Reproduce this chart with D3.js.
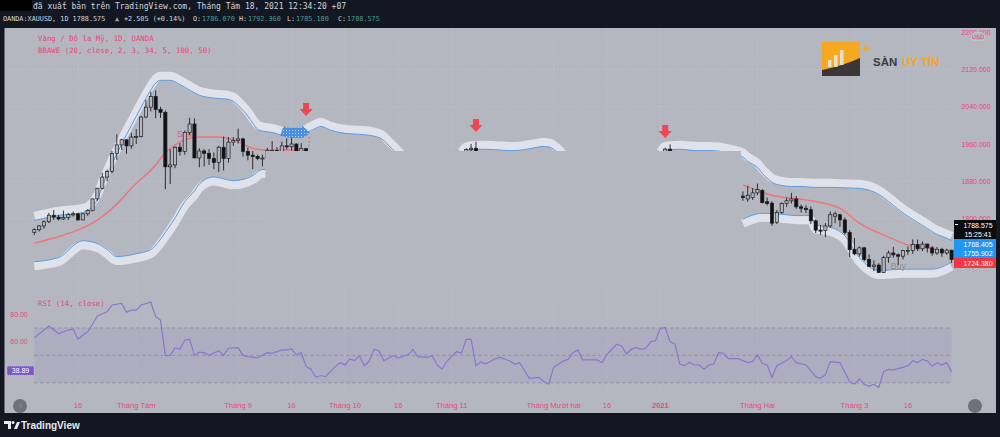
<!DOCTYPE html>
<html>
<head>
<meta charset="utf-8">
<script src="https://cdn.jsdelivr.net/npm/d3@7"></script>
<style>
  body { margin: 0; background: #131722; }
  svg { display: block; }
</style>
</head>
<body>
<svg id="chart" width="1000" height="437"></svg>
<script>
// bar index -> [open, high, low, close]
var candlesJulSep = [
  [2,1770,1779,1765,1776],[3,1776,1786,1772,1784],[4,1784,1796,1778,1793],[5,1793,1812,1790,1807],
  [6,1807,1818,1797,1803],[7,1803,1808,1796,1799],[8,1799,1817,1797,1802],[9,1802,1812,1797,1809],
  [10,1809,1815,1804,1810],[11,1810,1812,1795,1797],[12,1797,1812,1796,1810],[13,1810,1820,1806,1817],
  [14,1817,1843,1815,1842],[15,1842,1866,1838,1865],[16,1865,1898,1862,1889],[17,1889,1905,1880,1901],
  [18,1901,1945,1897,1940],[19,1940,1981,1926,1958],[20,1958,1971,1947,1969],[21,1969,1970,1939,1956],
  [22,1956,1984,1950,1975],[23,1975,1992,1960,1976],[24,1976,2020,1974,2018],[25,2018,2055,2015,2039],
  [26,2039,2072,2030,2062],[27,2062,2075,2015,2034],[28,2034,2040,2016,2028],[29,2028,2032,1863,1911],
  [30,1911,1949,1874,1915],[31,1915,1955,1908,1953],[32,1953,1962,1935,1944],[33,1944,1989,1937,1985],
  [34,1985,2016,1979,2003],[35,2003,2015,1930,1930],[36,1930,1951,1910,1945],[37,1945,1949,1912,1940],
  [38,1940,1949,1915,1929],[39,1929,1942,1906,1920],[40,1920,1956,1900,1953],[41,1953,1976,1903,1929],
  [42,1929,1975,1920,1964],[43,1964,1975,1956,1968],[44,1968,1993,1961,1971],[45,1971,1973,1933,1944],
  [46,1944,1952,1925,1936],[47,1936,1945,1906,1933],[48,1933,1937,1925,1929],[49,1929,1937,1912,1930],
  [50,1930,1952,1929,1946],[51,1946,1966,1940,1946],[52,1946,1953,1937,1940],[53,1940,1965,1932,1956],
  [54,1956,1972,1948,1954],[55,1954,1973,1946,1960],[56,1960,1961,1929,1944],[57,1944,1962,1940,1950],
  [58,1950,1950,1882,1912]
];
var candlesNov = [[91,1896,1951,1890,1948],[92,1948,1960,1935,1951],[93,1951,1965,1850,1862]];
var candlesJan = [[131,1898,1944,1883,1943],[132,1943,1952,1935,1949],[133,1949,1959,1901,1918]];
var candlesFebMar = [
  [148,1848,1858,1838,1845],[149,1842,1870,1836,1850],[150,1845,1865,1840,1855],[151,1855,1875,1850,1862],
  [152,1860,1863,1832,1834],[153,1836,1845,1828,1832],[154,1833,1837,1784,1790],[155,1792,1818,1788,1813],
  [156,1813,1835,1810,1832],[157,1832,1845,1825,1838],[158,1838,1855,1832,1842],[159,1842,1848,1821,1825],
  [160,1825,1830,1813,1822],[161,1822,1828,1812,1819],[162,1819,1826,1788,1795],[163,1795,1798,1769,1775],
  [164,1775,1786,1765,1774],[165,1774,1790,1760,1784],[166,1784,1815,1780,1808],[167,1805,1815,1790,1810],
  [168,1808,1810,1782,1797],[169,1797,1802,1765,1770],[170,1770,1775,1717,1733],[171,1734,1758,1721,1724],
  [172,1724,1740,1718,1737],[173,1737,1739,1708,1712],[174,1712,1723,1697,1697],[175,1697,1710,1687,1700],
  [176,1700,1704,1683,1684],[177,1684,1720,1683,1716],[178,1716,1731,1705,1726],[179,1726,1739,1716,1722],
  [180,1722,1725,1700,1719],[181,1719,1733,1712,1731],[182,1731,1740,1722,1731],[183,1731,1755,1724,1744],
  [184,1744,1755,1730,1735],[185,1735,1751,1730,1745],[186,1745,1746,1727,1737],[187,1737,1741,1720,1726],
  [188,1726,1739,1722,1734],[189,1734,1737,1718,1726],[190,1726,1735,1722,1732],[191,1732,1733,1705,1712]
];

// band ribbons and moving average: [bar index, price]
var upperBandA = [[2,1805],[7,1816],[12,1822],[14,1835],[15,1850],[16,1878],[18,1926],[20,1969],[22,2009],
  [24,2048],[26,2085],[27,2100],[28,2106],[30,2106],[32,2097],[34,2085],[36,2074],[38,2069],[40,2067],[42,2065],
  [43,2061],[44,2052],[46,2029],[47,2014],[48,2001],[49,1997],[51,1994],[53,1988],[55,1984],[57,1984],[58,1992],
  [60,2003],[61,2007],[63,1999],[66,1992],[69,1990],[72,1986],[74,1977],[75,1966],[76,1956],[77,1945],[78,1934]];
var upperBandB = [[90,1943],[91,1954],[92,1957],[94,1958],[97,1957],[100,1955],[102,1956],[104,1959],[106,1963],
  [107,1964],[108,1963],[109,1958],[110,1949],[111,1938]];
var upperBandC = [[131,1943],[132,1955],[133,1957],[135,1958],[137,1956],[139,1955],[141,1955],[143,1954],
  [145,1950],[147,1945],[148,1941],[149,1932],[150,1926],[151,1919],[152,1906],[153,1896],[154,1887],[156,1880],
  [158,1878],[160,1878],[163,1876],[166,1876],[169,1875],[172,1874],[174,1870],[176,1861],[178,1846],[180,1829],
  [182,1814],[184,1801],[186,1788],[188,1775],[190,1767],[191,1762]];
var lowerBandA = [[2,1698],[7,1707],[12,1743],[15,1737],[17,1724],[19,1709],[23,1715],[26,1724],[29,1761],
  [31,1792],[33,1827],[35,1850],[36,1865],[39,1880],[43,1872],[46,1878],[47,1883],[49,1896],[50,1896]];
var lowerBandC = [[148,1789],[152,1802],[156,1800],[159,1797],[162,1797],[163,1777],[166,1772],[169,1754],
  [172,1707],[176,1679],[181,1682],[185,1682],[187,1682],[191,1697]];
var maA = [[2,1747],[12,1780],[14,1790],[19,1831],[22,1865],[27,1915],[29,1941],[33,1969],[36,1975],[40,1975],
  [43,1969],[47,1951],[50,1947],[54,1947],[58,1947]];
var maC = [[148,1872],[154,1850],[161,1840],[168,1822],[172,1790],[178,1760],[182,1743],[186,1737],[191,1726]];

var rsi = [[2,62.9],[5,71.5],[7,66],[9,68.5],[10,69.3],[11,62],[13,67.3],[15,78.8],[17,81.9],[18,86.8],[20,88],
  [21,81.5],[22,83.1],[23,83.1],[24,86.8],[26,88.8],[27,78.3],[28,75.8],[29,49.8],[30,50],[31,55.6],[32,54.4],
  [33,61.2],[34,61.7],[35,50],[36,52.3],[37,51.8],[38,50],[40,53.5],[41,50],[42,55.2],[44,55.7],[45,50],[46,49.1],
  [48,48.3],[50,52],[51,51.5],[53,54],[54,54],[55,54.8],[56,50.4],[57,52],[58,41.8],[59,40],[60,34],[61,35.3],
  [62,34.5],[64,41.8],[65,44.7],[66,43],[67,47.4],[68,46.2],[69,49.8],[70,42.5],[71,45.7],[72,54.4],[73,53.4],
  [74,46.2],[76,49.8],[77,48],[79,50.4],[80,54.4],[81,49],[83,48.5],[84,49.8],[85,43],[86,40],[87,45.7],[89,52.8],
  [90,51.5],[91,61.7],[92,61.7],[93,42.5],[94,45.2],[95,43.9],[97,47.6],[98,48.5],[100,45.9],[101,43.7],[102,44.7],
  [104,33.3],[106,34],[107,30.8],[108,29.1],[109,41.3],[111,45.9],[112,47.1],[113,52],[114,54],[115,46.7],
  [118,46.7],[119,44.7],[120,50.8],[122,58.1],[123,56.9],[124,51],[125,54.4],[126,55.8],[127,54.4],[128,55.2],
  [129,60],[130,60.7],[131,69.8],[132,70.3],[133,60],[134,58.3],[135,43.7],[136,42.5],[137,45],[138,43],[139,43],
  [140,40],[141,43],[142,43.7],[143,52],[144,51.5],[145,47.6],[147,47.6],[149,44.7],[150,45.4],[151,50.4],
  [152,44.2],[153,43],[154,34],[155,42.5],[157,46.2],[158,49.1],[159,44.7],[161,43],[163,34.5],[164,33.3],
  [165,35.8],[166,45.5],[168,44.7],[170,30.8],[171,29.1],[172,32.8],[173,28.8],[174,27.6],[175,28.8],[176,26.7],
  [177,38.1],[178,39.8],[179,39.4],[181,41.3],[182,42.3],[183,46.2],[184,44.7],[185,47.1],[186,45.9],[187,42.3],
  [188,44.7],[189,43],[190,44.7],[191,38.1]];

var sellArrows = [[58,2020],[93,1986],[132,1973]];   // bar, arrow tip price
var sellZone = [53,58];
var sellText = [[31,1981]];
var buyText = [[180,1698]];
var hiddenBox = {from: 49.6, to: 147.6, below: 1945};

var timeTicks = [[11,"16"],[23,"Tháng Tám"],[44,"Tháng 9"],[55,"16"],[66,"Tháng 10"],[77,"16"],[88,"Tháng 11"],
  [109,"Tháng Mười hai"],[120,"16"],[131,"2021"],[151,"Tháng Hai"],[171,"Tháng 3"],[182,"16"]];
var priceTicks = [2200,2120,2040,1960,1880,1800];
var rsiTicks = [80,60];
var rsiLevels = [70,50,30];
var lastRsi = 38.89;
var priceTags = [["1788.575","15:25:41","#0b0c10"],["1768.405","1755.902","#2196f3"],["1724.380",null,"#f23645"]];

var PANEL = "#b4b7bf", PINK = "#e8467c", MONO = "'DejaVu Sans Mono', monospace", SANS = "'Liberation Sans', Arial, sans-serif";

var svg = d3.select("#chart");
var x = d3.scaleLinear().domain([11, 120]).range([78, 607]);
var y = d3.scaleLinear().domain([1800, 2120]).range([218.5, 69.5]);
var yr = d3.scaleLinear().domain([60, 80]).range([341.7, 314.3]);

var defs = svg.append("defs");
var pat = defs.append("pattern").attr("id", "dots").attr("width", 3).attr("height", 3).attr("patternUnits", "userSpaceOnUse");
pat.append("rect").attr("width", 3).attr("height", 3).attr("fill", "#4a8fdf");
pat.append("circle").attr("cx", 1.5).attr("cy", 1.5).attr("r", 0.55).attr("fill", "#cfe2f8");

// header
svg.append("rect").attr("x", 0).attr("y", 0).attr("width", 32).attr("height", 11).attr("fill", "#000");
svg.append("text").attr("x", 33).attr("y", 9).attr("font-family", MONO).attr("font-size", 8).attr("fill", "#d1d4dc")
  .text("đã xuất bản trên TradingView.com, Tháng Tám 18, 2021 12:34:20 +07");
var h2 = svg.append("g").attr("font-family", MONO).attr("font-size", 6.8).attr("fill", "#d1d4dc");
h2.append("text").attr("x", 3).attr("y", 21).text("OANDA:XAUUSD, 1D 1788.575");
h2.append("text").attr("x", 115).attr("y", 21).attr("fill", "#9aa0ab").text("▲");
h2.append("text").attr("x", 124).attr("y", 21).text("+2.505 (+0.14%)");
[["O:", "1786.070", 193], ["H:", "1792.360", 239], ["L:", "1785.180", 287], ["C:", "1788.575", 338]].forEach(function(d) {
  h2.append("text").attr("x", d[2]).attr("y", 21).text(d[0]);
  h2.append("text").attr("x", d[2] + 9).attr("y", 21).attr("fill", "#4a9f95").text(d[1]);
});

// panel
svg.append("rect").attr("x", 4.5).attr("y", 28).attr("width", 991.5).attr("height", 385).attr("fill", PANEL);

// grid
var grid = svg.append("g").attr("stroke", "#c6c9d0").attr("stroke-width", 0.7).attr("stroke-dasharray", "1,2");
grid.selectAll(".v").data(timeTicks).enter().append("line")
  .attr("x1", function(d) { return x(d[0]); }).attr("x2", function(d) { return x(d[0]); })
  .attr("y1", 28).attr("y2", 396);
grid.selectAll(".h").data(priceTicks.slice(1)).enter().append("line")
  .attr("x1", 5).attr("x2", 955).attr("y1", function(d) { return y(d); }).attr("y2", function(d) { return y(d); });

var main = svg.append("g");
var line = d3.line().x(function(d) { return x(d[0]); }).y(function(d) { return y(d[1]); }).curve(d3.curveMonotoneX);

function ribbon(data, side) {
  main.append("path").attr("d", line(data)).attr("fill", "none").attr("stroke", "#dfe2ea").attr("stroke-width", 8.5);
  main.append("path").attr("d", line(data)).attr("fill", "none").attr("stroke", "#5b9be0").attr("stroke-width", 1)
    .attr("transform", "translate(0," + (side * 4.3) + ")");
}
ribbon(upperBandA, 1); ribbon(upperBandB, 1); ribbon(upperBandC, 1);
ribbon(lowerBandA, -1); ribbon(lowerBandC, -1);

// sell zone on the upper band
main.append("path")
  .attr("d", line(upperBandA.filter(function(d) { return d[0] >= sellZone[0] && d[0] <= sellZone[1]; })))
  .attr("fill", "none").attr("stroke", "url(#dots)").attr("stroke-width", 10);

[maA, maC].forEach(function(m) {
  main.append("path").attr("d", line(m)).attr("fill", "none").attr("stroke", "#ef7479").attr("stroke-width", 1.4);
});

// sell label (under candles)
sellText.forEach(function(d) {
  main.append("text").attr("x", x(d[0]) + 2).attr("y", y(d[1]) + 3).attr("font-family", SANS).attr("font-size", 9)
    .attr("fill", "#e8566a").text("Sell");
  main.append("line").attr("x1", x(d[0]) + 8).attr("x2", x(d[0]) + 8).attr("y1", y(d[1]) + 5).attr("y2", y(d[1]) + 12)
    .attr("stroke", "#e8566a").attr("stroke-dasharray", "2,2");
});

function drawCandles(rows) {
  var g = main.append("g").selectAll("g").data(rows).enter().append("g");
  g.append("line")
    .attr("x1", function(d) { return x(d[0]); }).attr("x2", function(d) { return x(d[0]); })
    .attr("y1", function(d) { return y(d[2]); }).attr("y2", function(d) { return y(d[3]); })
    .attr("stroke", "#1c1d22").attr("stroke-width", 0.9);
  g.append("rect")
    .attr("x", function(d) { return x(d[0]) - 1.6; }).attr("width", 3.2)
    .attr("y", function(d) { return y(Math.max(d[1], d[4])); })
    .attr("height", function(d) { return Math.max(1, Math.abs(y(d[1]) - y(d[4]))); })
    .attr("fill", function(d) { return d[4] >= d[1] ? PANEL : "#111216"; })
    .attr("stroke", "#1c1d22").attr("stroke-width", 0.7);
}
drawCandles(candlesJulSep); drawCandles(candlesNov); drawCandles(candlesJan); drawCandles(candlesFebMar);

// drawing that hides the middle of the chart
main.append("rect").attr("x", x(hiddenBox.from)).attr("width", x(hiddenBox.to) - x(hiddenBox.from))
  .attr("y", y(hiddenBox.below)).attr("height", 290 - y(hiddenBox.below)).attr("fill", PANEL);

// dashed marks next to the sell zone
main.append("line").attr("x1", x(sellZone[1]) + 3).attr("x2", x(sellZone[1]) + 3)
  .attr("y1", y(1984) + 4).attr("y2", y(1950)).attr("stroke", "#e8566a").attr("stroke-width", 0.8).attr("stroke-dasharray", "2,2");

// arrows
main.selectAll(".arrow").data(sellArrows).enter().append("path")
  .attr("d", function(d) {
    var cx = x(d[0]), t = y(d[1]);
    return "M" + (cx - 3) + "," + (t - 13) + "h6v6h3.5l-6.5,7l-6.5,-7h3.5z";
  })
  .attr("fill", "#f0464f");

buyText.forEach(function(d) {
  main.append("text").attr("x", x(d[0])).attr("y", y(d[1]) + 3).attr("text-anchor", "middle")
    .attr("font-family", SANS).attr("font-size", 9).attr("fill", "#8a8d97").text("Buy");
});

// legend
var lg = svg.append("g").attr("font-family", MONO).attr("font-size", 7.4).attr("fill", PINK);
lg.append("text").attr("x", 38).attr("y", 41).text("Vàng / Đô la Mỹ, 1D, OANDA");
lg.append("text").attr("x", 38).attr("y", 53).text("BBAWE (20, close, 2, 3, 34, 5, 100, 50)");
lg.append("text").attr("x", 38).attr("y", 306).text("RSI (14, close)");

// price axis
svg.append("g").selectAll("text").data(priceTicks).enter().append("text")
  .attr("x", 976).attr("y", function(d) { return y(d) + 2.5; }).attr("text-anchor", "middle")
  .attr("font-family", SANS).attr("font-size", 7).attr("fill", PINK).text(d3.format(".3f"));
svg.append("rect").attr("x", 971.5).attr("y", 32.5).attr("width", 13).attr("height", 8).attr("rx", 3)
  .attr("fill", PANEL).attr("stroke", "#e8eaf0").attr("stroke-width", 0.6).attr("stroke-dasharray", "1,1");
svg.append("text").attr("x", 978).attr("y", 39).attr("text-anchor", "middle").attr("font-family", SANS)
  .attr("font-size", 6).attr("fill", PINK).text("USD");

// price tags
var tagTop = 220;
priceTags.forEach(function(t) {
  var h = t[1] ? 19 : 10;
  svg.append("rect").attr("x", 954).attr("y", tagTop).attr("width", 42).attr("height", h).attr("fill", t[2]);
  svg.append("text").attr("x", 978).attr("y", tagTop + 7.5).attr("text-anchor", "middle").attr("font-family", SANS)
    .attr("font-size", 7).attr("fill", "#fff").text(t[0]);
  if (t[1]) svg.append("text").attr("x", 978).attr("y", tagTop + 16.5).attr("text-anchor", "middle")
    .attr("font-family", SANS).attr("font-size", 7).attr("fill", "#fff").text(t[1]);
  tagTop += h;
});
svg.append("line").attr("x1", 955).attr("x2", 958).attr("y1", 224.5).attr("y2", 224.5).attr("stroke", "#fff");

// RSI pane
var rp = svg.append("g");
rp.append("rect").attr("x", x(2)).attr("width", x(191) - x(2)).attr("y", yr(70)).attr("height", yr(30) - yr(70))
  .attr("fill", "#7e57c2").attr("opacity", 0.1);
rp.selectAll("line").data(rsiLevels).enter().append("line")
  .attr("x1", x(2)).attr("x2", x(191)).attr("y1", function(d) { return yr(d); }).attr("y2", function(d) { return yr(d); })
  .attr("stroke", "#85889a").attr("stroke-width", 0.8).attr("stroke-dasharray", "3,3");
rp.append("path").attr("d", d3.line().x(function(d) { return x(d[0]); }).y(function(d) { return yr(d[1]); })(rsi))
  .attr("fill", "none").attr("stroke", "#8b74d4").attr("stroke-width", 1.2);
rp.selectAll("text").data(rsiTicks).enter().append("text")
  .attr("x", 19).attr("y", function(d) { return yr(d) + 2.5; }).attr("text-anchor", "middle")
  .attr("font-family", SANS).attr("font-size", 7).attr("fill", PINK).text(d3.format(".2f"));
rp.append("rect").attr("x", 7).attr("y", yr(lastRsi) - 4.5).attr("width", 27).attr("height", 9)
  .attr("fill", "#7e57c2").attr("stroke", "#d8ccf2").attr("stroke-width", 0.6).attr("stroke-dasharray", "1,1");
rp.append("text").attr("x", 20.5).attr("y", yr(lastRsi) + 2.5).attr("text-anchor", "middle").attr("font-family", SANS)
  .attr("font-size", 7).attr("fill", "#fff").text(d3.format(".2f")(lastRsi));

// time axis
svg.append("g").selectAll("text").data(timeTicks).enter().append("text")
  .attr("x", function(d) { return x(d[0]); }).attr("y", 408).attr("text-anchor", "middle")
  .attr("font-family", SANS).attr("font-size", 7.6).attr("font-weight", function(d) { return d[1] === "2021" ? "bold" : "normal"; })
  .attr("fill", PINK).text(function(d) { return d[1]; });

// round buttons
svg.append("circle").attr("cx", 20).attr("cy", 406).attr("r", 7).attr("fill", "#6e717b");
svg.append("text").attr("x", 20).attr("y", 409).attr("text-anchor", "middle").attr("font-family", SANS).attr("font-size", 8).attr("fill", "#8d909a").text("?");
svg.append("circle").attr("cx", 975).attr("cy", 406).attr("r", 7).attr("fill", "#6e717b");

// logo watermark
var lo = svg.append("g");
lo.append("rect").attr("x", 822).attr("y", 42).attr("width", 38).attr("height", 34).attr("fill", "#f6a821");
lo.append("path").attr("d", "M822,76 L822,70 Q842,66 860,58 L860,76 Z").attr("fill", "#3b3737");
[[828, 60, 7], [834, 55, 12], [840, 50, 15]].forEach(function(b) {
  lo.append("rect").attr("x", b[0]).attr("y", b[1]).attr("width", 3.5).attr("height", b[2]).attr("fill", "#e8e4dc").attr("opacity", 0.9);
});
lo.append("path").attr("d", "M866,44 l1.2,3 l3,1.2 l-3,1.2 l-1.2,3 l-1.2,-3 l-3,-1.2 l3,-1.2z").attr("fill", "#f6a821");
lo.append("text").attr("x", 873).attr("y", 66).attr("font-family", SANS).attr("font-size", 11.5).attr("font-weight", "bold")
  .attr("fill", "#3b3b3b").text("SÀN");
lo.append("text").attr("x", 902).attr("y", 66).attr("font-family", SANS).attr("font-size", 11.5).attr("font-weight", "bold")
  .attr("fill", "#f6a821").text("UY TÍN");

// TradingView footer
var tv = svg.append("g").attr("fill", "#e8eaf0");
tv.append("path").attr("d", "M4,421 h7 v8 h-3 v-5 h-4z");
tv.append("circle").attr("cx", 13).attr("cy", 422.5).attr("r", 1.5);
tv.append("path").attr("d", "M14,429 l3,-7 h3 l-3,7z");
tv.append("text").attr("x", 21).attr("y", 429).attr("font-family", SANS).attr("font-size", 10).attr("font-weight", "bold").text("TradingView");
</script>
</body>
</html>
